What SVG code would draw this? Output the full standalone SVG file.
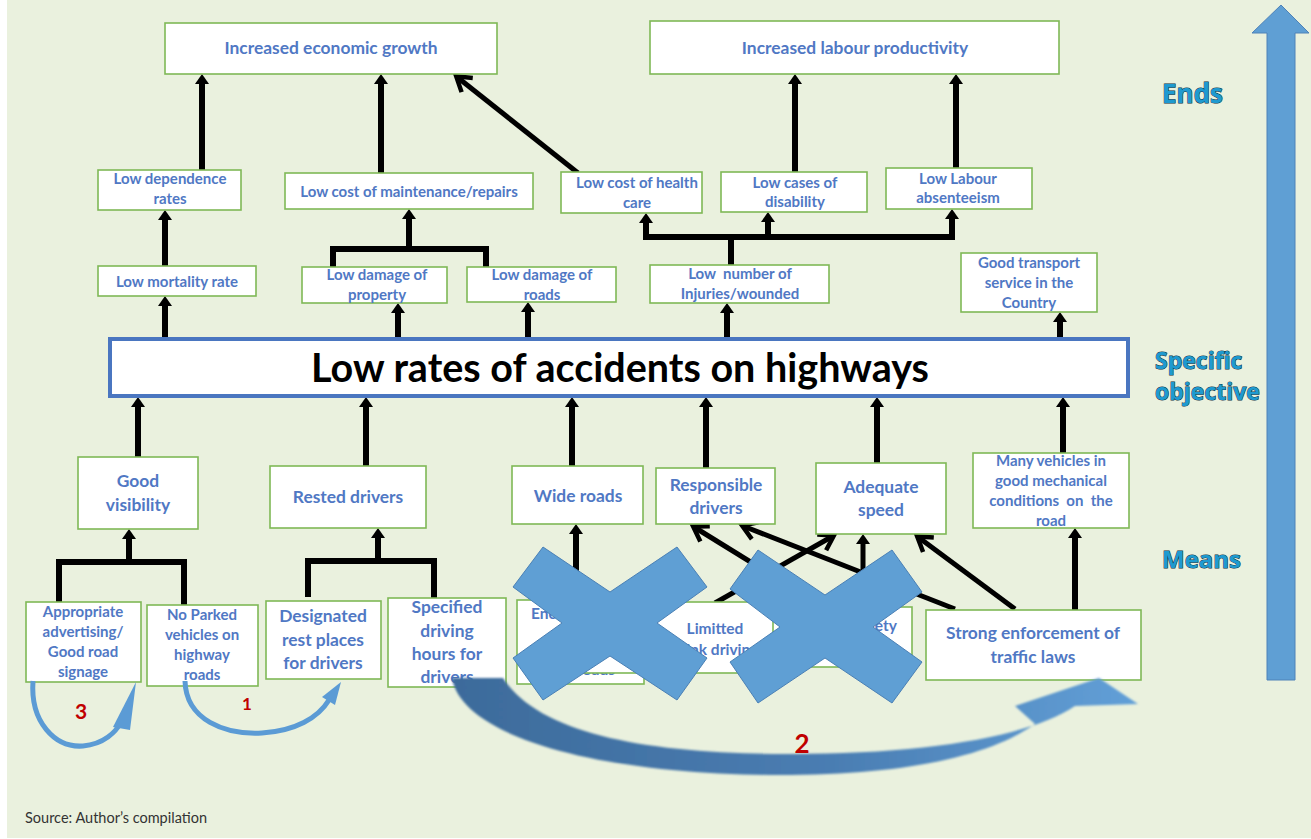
<svg xmlns="http://www.w3.org/2000/svg" width="1311" height="839" viewBox="0 0 1311 839">
  <style>
    .box { fill: #ffffff; stroke: #7fb856; stroke-width: 1.6; }
    .t { font-family: Lato, "Liberation Sans", sans-serif; font-weight: bold; fill: #5078c4; text-anchor: middle; }
    .s13 { font-size: 15px; }
    .s15 { font-size: 15.5px; }
    .s16 { font-size: 17.4px; }
    .pre { white-space: pre; }
    .ln { stroke: #000; stroke-width: 6; fill: none; }
    .dg { stroke: #000; stroke-width: 5; fill: none; }
    .side { font-family: "Open Sans", "DejaVu Sans", sans-serif; font-weight: bold; fill: #1e9ad0; stroke: #0a2e40; stroke-width: 1; paint-order: stroke fill; }
    .num { font-family: Lato, "Liberation Sans", sans-serif; font-weight: bold; fill: #c00000; text-anchor: middle; }
    .cross { fill: #5f9fd4; stroke: #4a80b5; stroke-width: 1; }
    .curve { fill: none; stroke: #5b9bd5; stroke-width: 5; }
  </style>
  <defs>
    <marker id="ah" viewBox="0 0 10 14" refX="1" refY="7" markerWidth="10" markerHeight="14" markerUnits="userSpaceOnUse" orient="auto">
      <path d="M0,0 L10,7 L0,14 Z" fill="#000"/>
    </marker>
    <marker id="ch" viewBox="0 0 18 22" refX="15" refY="11" markerWidth="18" markerHeight="22" markerUnits="userSpaceOnUse" orient="auto" overflow="visible">
      <path d="M2,2 L16,11 L2,20" fill="none" stroke="#000" stroke-width="4.5"/>
    </marker>
    <linearGradient id="bigArrowFill" gradientUnits="userSpaceOnUse" x1="450" y1="0" x2="1140" y2="0">
      <stop offset="0" stop-color="#3d6b9b"/>
      <stop offset="0.55" stop-color="#4a7db2"/>
      <stop offset="1" stop-color="#62a0d8"/>
    </linearGradient>
    <filter id="soft" x="-5%" y="-20%" width="110%" height="140%">
      <feGaussianBlur stdDeviation="1.3"/>
    </filter>
  </defs>

  <!-- page background -->
  <rect x="0" y="0" width="1311" height="839" fill="#ffffff"/>
  <rect x="7" y="0" width="1304" height="838" fill="#eaf1de"/>

  <!-- connectors -->
  <g id="connectors">
    <!-- upper level arrows -->
    <line class="ln" x1="202" y1="170" x2="202" y2="83" marker-end="url(#ah)"/>
    <line class="ln" x1="381" y1="173" x2="381" y2="83" marker-end="url(#ah)"/>
    <line class="dg" x1="578" y1="173" x2="457" y2="77" marker-end="url(#ch)"/>
    <line class="ln" x1="795" y1="172" x2="795" y2="83" marker-end="url(#ah)"/>
    <line class="ln" x1="956" y1="168" x2="956" y2="83" marker-end="url(#ah)"/>
    <line class="ln" x1="165" y1="266" x2="165" y2="219" marker-end="url(#ah)"/>
    <!-- maintenance tree -->
    <path class="ln" d="M333,268 V249 H486 V268"/>
    <line class="ln" x1="409" y1="249" x2="409" y2="218" marker-end="url(#ah)"/>
    <!-- injuries tree -->
    <line class="ln" x1="731" y1="265" x2="731" y2="237"/>
    <path class="ln" d="M643,237 H955"/>
    <line class="ln" x1="646" y1="237" x2="646" y2="222" marker-end="url(#ah)"/>
    <line class="ln" x1="768" y1="237" x2="768" y2="221" marker-end="url(#ah)"/>
    <line class="ln" x1="952" y1="237" x2="952" y2="218" marker-end="url(#ah)"/>
    <!-- objective to upper level -->
    <line class="ln" x1="165" y1="337" x2="165" y2="305" marker-end="url(#ah)"/>
    <line class="ln" x1="398" y1="337" x2="398" y2="312" marker-end="url(#ah)"/>
    <line class="ln" x1="528" y1="337" x2="528" y2="311" marker-end="url(#ah)"/>
    <line class="ln" x1="727" y1="337" x2="727" y2="312" marker-end="url(#ah)"/>
    <line class="ln" x1="1060" y1="337" x2="1060" y2="321" marker-end="url(#ah)"/>
    <!-- means to objective -->
    <line class="ln" x1="138" y1="457" x2="138" y2="406" marker-end="url(#ah)"/>
    <line class="ln" x1="366" y1="466" x2="366" y2="406" marker-end="url(#ah)"/>
    <line class="ln" x1="572" y1="466" x2="572" y2="406" marker-end="url(#ah)"/>
    <line class="ln" x1="706" y1="468" x2="706" y2="406" marker-end="url(#ah)"/>
    <line class="ln" x1="877" y1="463" x2="877" y2="406" marker-end="url(#ah)"/>
    <line class="ln" x1="1063" y1="453" x2="1063" y2="406" marker-end="url(#ah)"/>
    <!-- lower trees -->
    <path class="ln" d="M59,602 V562 H184 V605"/>
    <line class="ln" x1="129" y1="562" x2="129" y2="538" marker-end="url(#ah)"/>
    <path class="ln" d="M308,597 V561 H434 V600"/>
    <line class="ln" x1="378" y1="561" x2="378" y2="537" marker-end="url(#ah)"/>
    <line class="ln" x1="576" y1="600" x2="576" y2="533" marker-end="url(#ah)"/>
    <line class="ln" x1="1075" y1="610" x2="1075" y2="537" marker-end="url(#ah)"/>
    <line class="dg" x1="863" y1="606" x2="863" y2="543" marker-end="url(#ah)"/>
    <!-- diagonal links -->
    <line class="dg" x1="822" y1="606" x2="694" y2="527" marker-end="url(#ch)"/>
    <line class="dg" x1="955" y1="609" x2="743" y2="526" marker-end="url(#ch)"/>
    <line class="dg" x1="715" y1="603" x2="833" y2="536" marker-end="url(#ch)"/>
    <line class="dg" x1="1015" y1="609" x2="918" y2="537" marker-end="url(#ch)"/>
  </g>

  <!-- ends -->
  <g id="n-econ">
    <rect class="box" x="165" y="23" width="332" height="51"/>
    <text class="t s16" x="331" y="54">Increased economic growth</text>
  </g>
  <g id="n-labour">
    <rect class="box" x="650" y="21" width="409" height="53"/>
    <text class="t s16" x="855" y="54">Increased labour productivity</text>
  </g>
  <g id="n-dependence">
    <rect class="box" x="98" y="170" width="143" height="40"/>
    <text class="t s13" x="170" y="184">Low dependence</text>
    <text class="t s13" x="170" y="204">rates</text>
  </g>
  <g id="n-maintenance">
    <rect class="box" x="285" y="173" width="248" height="36"/>
    <text class="t s13" x="409" y="197">Low cost of maintenance/repairs</text>
  </g>
  <g id="n-health">
    <rect class="box" x="561" y="172" width="141" height="41"/>
    <text class="t s13" x="637" y="188">Low cost of health</text>
    <text class="t s13" x="637" y="208">care</text>
  </g>
  <g id="n-disability">
    <rect class="box" x="721" y="172" width="146" height="40"/>
    <text class="t s13" x="795" y="188">Low cases of</text>
    <text class="t s13" x="795" y="207">disability</text>
  </g>
  <g id="n-absenteeism">
    <rect class="box" x="886" y="168" width="146" height="41"/>
    <text class="t s13" x="958" y="184">Low Labour</text>
    <text class="t s13" x="958" y="203">absenteeism</text>
  </g>
  <g id="n-mortality">
    <rect class="box" x="98" y="266" width="158" height="30"/>
    <text class="t s13" x="177" y="287">Low mortality rate</text>
  </g>
  <g id="n-property">
    <rect class="box" x="302" y="267" width="145" height="36"/>
    <text class="t s13" x="377" y="280">Low damage of</text>
    <text class="t s13" x="377" y="300">property</text>
  </g>
  <g id="n-roads">
    <rect class="box" x="467" y="267" width="149" height="35"/>
    <text class="t s13" x="542" y="280">Low damage of</text>
    <text class="t s13" x="542" y="300">roads</text>
  </g>
  <g id="n-injuries">
    <rect class="box" x="650" y="265" width="179" height="38"/>
    <text class="t s13 pre" x="740" y="279">Low  number of</text>
    <text class="t s13" x="740" y="299">Injuries/wounded</text>
  </g>
  <g id="n-transport">
    <rect class="box" x="961" y="253" width="136" height="59"/>
    <text class="t s13" x="1029" y="268">Good transport</text>
    <text class="t s13" x="1029" y="288">service in the</text>
    <text class="t s13" x="1029" y="308">Country</text>
  </g>

  <!-- specific objective -->
  <g id="n-objective">
    <rect x="110" y="339" width="1018" height="57" fill="#ffffff" stroke="#4a76c0" stroke-width="4"/>
    <text x="620" y="382" font-family="Lato, 'Liberation Sans', sans-serif" font-weight="bold" font-size="39.5" fill="#000" text-anchor="middle">Low rates of accidents on highways</text>
  </g>

  <!-- means -->
  <g id="n-visibility">
    <rect class="box" x="78" y="457" width="120" height="72"/>
    <text class="t s16" x="138" y="487">Good</text>
    <text class="t s16" x="138" y="511">visibility</text>
  </g>
  <g id="n-rested">
    <rect class="box" x="270" y="466" width="156" height="62"/>
    <text class="t s16" x="348" y="503">Rested drivers</text>
  </g>
  <g id="n-wide">
    <rect class="box" x="512" y="466" width="131" height="58"/>
    <text class="t s16" x="578" y="502">Wide roads</text>
  </g>
  <g id="n-responsible">
    <rect class="box" x="656" y="468" width="119" height="56"/>
    <text class="t s16" x="716" y="491">Responsible</text>
    <text class="t s16" x="716" y="514">drivers</text>
  </g>
  <g id="n-speed">
    <rect class="box" x="816" y="463" width="130" height="71"/>
    <text class="t s16" x="881" y="493">Adequate</text>
    <text class="t s16" x="881" y="516">speed</text>
  </g>
  <g id="n-vehicles">
    <rect class="box" x="973" y="453" width="156" height="75"/>
    <text class="t s13" x="1051" y="466">Many vehicles in</text>
    <text class="t s13" x="1051" y="486">good mechanical</text>
    <text class="t s13 pre" x="1051" y="506">conditions  on  the</text>
    <text class="t s13" x="1051" y="526">road</text>
  </g>
  <g id="n-signage">
    <rect class="box" x="26" y="602" width="115" height="80"/>
    <text class="t s13" x="83" y="617">Appropriate</text>
    <text class="t s13" x="83" y="637">advertising/</text>
    <text class="t s13" x="83" y="657">Good road</text>
    <text class="t s13" x="83" y="677">signage</text>
  </g>
  <g id="n-parked">
    <rect class="box" x="147" y="605" width="111" height="81"/>
    <text class="t s13" x="202" y="620">No Parked</text>
    <text class="t s13" x="202" y="640">vehicles on</text>
    <text class="t s13" x="202" y="660">highway</text>
    <text class="t s13" x="202" y="680">roads</text>
  </g>
  <g id="n-restplaces">
    <rect class="box" x="266" y="601" width="115" height="78"/>
    <text class="t s16" x="323" y="622">Designated</text>
    <text class="t s16" x="323" y="646">rest places</text>
    <text class="t s16" x="323" y="669">for drivers</text>
  </g>
  <g id="n-hours">
    <rect class="box" x="388" y="598" width="118" height="89"/>
    <text class="t s16" x="447" y="613">Specified</text>
    <text class="t s16" x="447" y="637">driving</text>
    <text class="t s16" x="447" y="660">hours for</text>
    <text class="t s16" x="447" y="683">drivers</text>
  </g>
  <g id="n-enc">
    <rect class="box" x="517" y="600" width="127" height="84"/>
    <text class="t s15" x="531" y="619" style="text-anchor:start">Enc</text>
    <text class="t s15" x="615" y="675" style="text-anchor:end">roads</text>
  </g>
  <g id="n-drink">
    <rect class="box" x="583" y="602" width="192" height="71"/>
    <text class="t s15" x="715" y="634">Limitted</text>
    <text class="t s15" x="715" y="655">drink driving</text>
  </g>
  <g id="n-safety">
    <rect class="box" x="773" y="607" width="139" height="60"/>
    <text class="t s15" x="897" y="631" style="text-anchor:end">Road safety</text>
  </g>
  <g id="n-enforcement">
    <rect class="box" x="926" y="610" width="215" height="70"/>
    <text class="t s16" x="1033" y="639">Strong enforcement of</text>
    <text class="t s16" x="1033" y="663">traffic laws</text>
  </g>

  <!-- crossed-out means -->
  <polygon class="cross" points="543,547 610,592 677,547 707,587 657,623 707,658 677,700 610,656 543,700 513,658 562,623 513,587"/>
  <polygon class="cross" points="758,550 825,595 892,550 922,592 873,627 922,662 892,703 825,658 758,703 730,662 780,627 730,589"/>

  <!-- level scale on the right -->
  <polygon points="1267,680 1295,680 1295,33 1309,33 1281,5 1252,33 1267,33" fill="#5f9fd4" stroke="#4e82b8" stroke-width="1"/>
  <text class="side" x="1162" y="103" font-size="26">Ends</text>
  <text class="side" x="1155" y="369" font-size="23">Specific</text>
  <text class="side" x="1155" y="400" font-size="23">objective</text>
  <text class="side" x="1162" y="568" font-size="24">Means</text>

  <!-- sequence arrows -->
  <path class="curve" d="M33,681 C30,722 55,748 83,746 C104,744 116,732 121,722"/>
  <polygon points="113,727 136,682 130,730" fill="#5b9bd5"/>
  <path class="curve" d="M185,681 C186,720 225,735 262,733 C295,731 318,718 329,700"/>
  <polygon points="322,697 341,682 335,705" fill="#5b9bd5"/>
  <path d="M452,678 C462,737 600,776 790,775 C920,774 995,752 1035,724 L1015,706 L1099,678 L1138,704 L1075,706 C1030,736 930,754 790,754 C650,754 540,735 503,678 Z" fill="url(#bigArrowFill)" filter="url(#soft)"/>
  <text class="num" x="81" y="719" font-size="21">3</text>
  <text class="num" x="247" y="710" font-size="17">1</text>
  <text class="num" x="802" y="753" font-size="26">2</text>

  <!-- source note -->
  <text x="25" y="823" font-family="Lato, 'Liberation Sans', sans-serif" font-size="14.5" fill="#333333">Source: Author’s compilation</text>
</svg>
